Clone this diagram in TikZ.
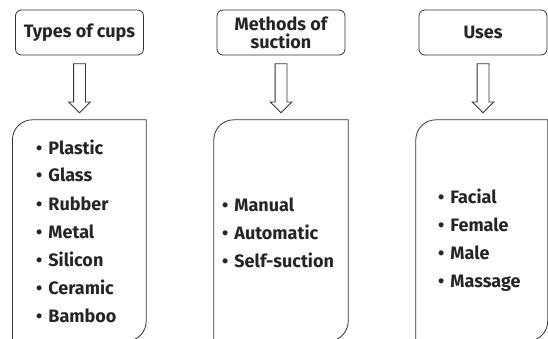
\documentclass[tikz,border=0pt]{standalone}
\usepackage{fontspec}
\setmainfont{Fira Sans}
\usetikzlibrary{positioning,shapes.arrows}

\definecolor{inkgray}{HTML}{252525}
\definecolor{linegray}{HTML}{333333}

\tikzset{
  header/.style={draw=linegray,line width=0.8pt,rounded corners=6pt,
    minimum width=128pt,minimum height=45pt,inner sep=2pt,align=center,
    text=inkgray,font=\bfseries\fontsize{18}{18}\selectfont},
  downarrow/.style={draw=linegray,line width=0.8pt,single arrow,
    shape border rotate=270,minimum height=49pt,minimum width=21pt,
    single arrow head extend=5pt,single arrow tip angle=90,inner sep=5.5pt},
  listbox/.style={minimum height=221pt,inner sep=0pt},
  boxline/.style={draw=linegray,line width=0.8pt},
  item/.style={anchor=base west,inner sep=0pt,text=inkgray,
    font=\bfseries\fontsize{18}{18}\selectfont}
}

% one box, rounded at top left and bottom right only
\newcommand{\cupbox}[1]{%
  \draw[boxline] (#1.south west) -- ([yshift=-20pt]#1.north west)
    arc[start angle=180,end angle=90,radius=20pt] -- (#1.north east)
    -- ([yshift=20pt]#1.south east)
    arc[start angle=0,end angle=-90,radius=20pt] -- cycle;}
\newcommand{\bul}{\textbullet\hspace{6pt}}

\begin{document}
\begin{tikzpicture}[x=1pt,y=-1pt]
  \useasboundingbox (0,0) rectangle (548,339);
  \clip (0,0) rectangle (548,339);

  \node[header] (h1) at (79.5,32.5) {Types of cups};
  \node[header] (h2) at (281,32.5) {Methods of\\suction};
  \node[header] (h3) at (483,32.5) {Uses};

  \node[downarrow,below=8pt of h1] (a1) {};
  \node[downarrow,below=8pt of h2] (a2) {};
  \node[downarrow,below=8pt of h3] (a3) {};

  \node[listbox,minimum width=133.4pt] (b1) at (79.3,230.5) {};
  \node[listbox,minimum width=134pt] (b2) at (281,230.5) {};
  \node[listbox,minimum width=131.5pt] (b3) at (481.75,230.5) {};
  \cupbox{b1}
  \cupbox{b2}
  \cupbox{b3}

  \foreach \t [count=\i] in {Plastic,Glass,Rubber,Metal,Silicon,Ceramic,Bamboo}
    \node[item] (p\i) at (36,154+28*\i-28) {\bul\t};
  \foreach \t [count=\i] in {Manual,Automatic,Self-suction}
    \node[item] (m\i) at (222,211+28*\i-28) {\bul\t};
  \foreach \t [count=\i] in {Facial,Female,Male,Massage}
    \node[item] (u\i) at (438,203+28*\i-28) {\bul\t};
\end{tikzpicture}
\end{document}
